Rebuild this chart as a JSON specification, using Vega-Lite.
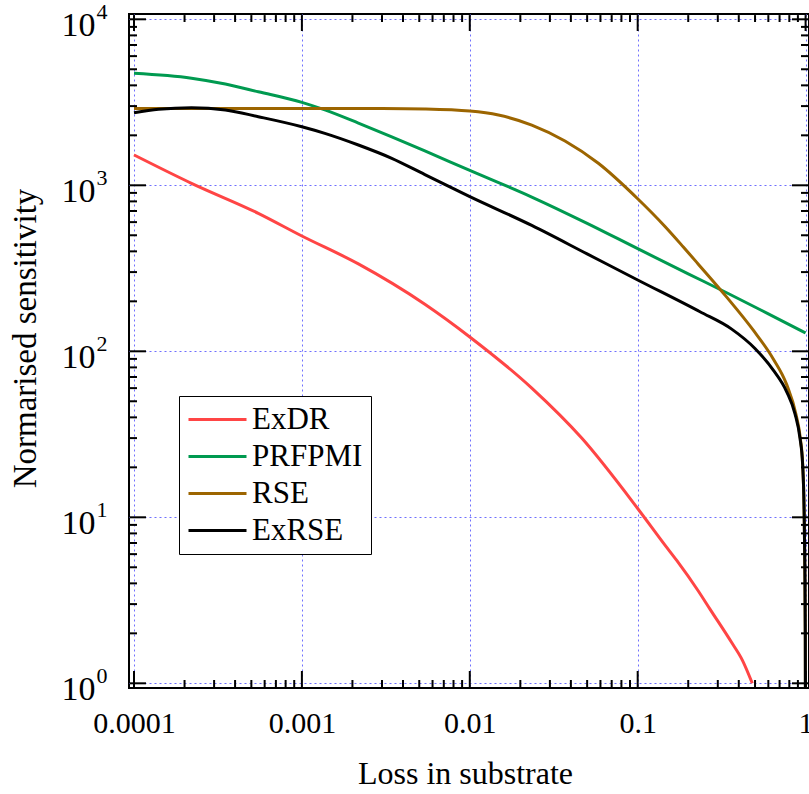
{
  "$schema": "https://vega.github.io/schema/vega-lite/v6.json",
  "width": 680,
  "height": 674,
  "autosize": {"type": "none"},
  "padding": {"left": 129, "top": 14, "right": 0, "bottom": 106},
  "background": "white",
  "config": {
    "view": {"stroke": "black", "strokeWidth": 2},
    "font": "Liberation Serif"
  },
  "datasets": {
    "curves": [
      {"series": "ExDR", "x": 0.0001, "y": 1524},
      {"series": "ExDR", "x": 0.00022, "y": 1028},
      {"series": "ExDR", "x": 0.00055, "y": 678},
      {"series": "ExDR", "x": 0.001, "y": 495},
      {"series": "ExDR", "x": 0.00217, "y": 336},
      {"series": "ExDR", "x": 0.0054, "y": 192},
      {"series": "ExDR", "x": 0.01, "y": 122},
      {"series": "ExDR", "x": 0.0234, "y": 60},
      {"series": "ExDR", "x": 0.0464, "y": 30},
      {"series": "ExDR", "x": 0.1, "y": 11.3},
      {"series": "ExDR", "x": 0.1454, "y": 6.8},
      {"series": "ExDR", "x": 0.1708, "y": 5.5},
      {"series": "ExDR", "x": 0.2296, "y": 3.6},
      {"series": "ExDR", "x": 0.2695, "y": 2.8},
      {"series": "ExDR", "x": 0.3629, "y": 1.76},
      {"series": "ExDR", "x": 0.42, "y": 1.38},
      {"series": "ExDR", "x": 0.4815, "y": 1.0},

      {"series": "PRFPMI", "x": 0.0001, "y": 4730},
      {"series": "PRFPMI", "x": 0.00022, "y": 4420},
      {"series": "PRFPMI", "x": 0.00035, "y": 4075},
      {"series": "PRFPMI", "x": 0.00055, "y": 3660},
      {"series": "PRFPMI", "x": 0.001, "y": 3160},
      {"series": "PRFPMI", "x": 0.00137, "y": 2845},
      {"series": "PRFPMI", "x": 0.00217, "y": 2370},
      {"series": "PRFPMI", "x": 0.00343, "y": 1960},
      {"series": "PRFPMI", "x": 0.0054, "y": 1610},
      {"series": "PRFPMI", "x": 0.01, "y": 1230},
      {"series": "PRFPMI", "x": 0.0234, "y": 850},
      {"series": "PRFPMI", "x": 0.05, "y": 590},
      {"series": "PRFPMI", "x": 0.1, "y": 415},
      {"series": "PRFPMI", "x": 0.2, "y": 293},
      {"series": "PRFPMI", "x": 0.346, "y": 223},
      {"series": "PRFPMI", "x": 0.6, "y": 168},
      {"series": "PRFPMI", "x": 1, "y": 129},

      {"series": "RSE", "x": 0.0001, "y": 2900},
      {"series": "RSE", "x": 0.001, "y": 2905},
      {"series": "RSE", "x": 0.003, "y": 2900},
      {"series": "RSE", "x": 0.0054, "y": 2880},
      {"series": "RSE", "x": 0.01, "y": 2800},
      {"series": "RSE", "x": 0.0148, "y": 2650},
      {"series": "RSE", "x": 0.0234, "y": 2306},
      {"series": "RSE", "x": 0.0369, "y": 1849},
      {"series": "RSE", "x": 0.0583, "y": 1358},
      {"series": "RSE", "x": 0.1, "y": 830},
      {"series": "RSE", "x": 0.1454, "y": 565},
      {"series": "RSE", "x": 0.187, "y": 425},
      {"series": "RSE", "x": 0.2296, "y": 335},
      {"series": "RSE", "x": 0.339, "y": 212},
      {"series": "RSE", "x": 0.488, "y": 134},
      {"series": "RSE", "x": 0.642, "y": 90},
      {"series": "RSE", "x": 0.772, "y": 63},
      {"series": "RSE", "x": 0.88, "y": 41},
      {"series": "RSE", "x": 0.93, "y": 30},
      {"series": "RSE", "x": 0.96, "y": 21},
      {"series": "RSE", "x": 0.98, "y": 11},
      {"series": "RSE", "x": 0.99, "y": 5},
      {"series": "RSE", "x": 0.996, "y": 2},
      {"series": "RSE", "x": 0.999, "y": 0.5},

      {"series": "ExRSE", "x": 0.0001, "y": 2735},
      {"series": "ExRSE", "x": 0.00014, "y": 2870},
      {"series": "ExRSE", "x": 0.00022, "y": 2933},
      {"series": "ExRSE", "x": 0.00035, "y": 2845},
      {"series": "ExRSE", "x": 0.00055, "y": 2590},
      {"series": "ExRSE", "x": 0.001, "y": 2253},
      {"series": "ExRSE", "x": 0.00137, "y": 2056},
      {"series": "ExRSE", "x": 0.00217, "y": 1749},
      {"series": "ExRSE", "x": 0.00343, "y": 1454},
      {"series": "ExRSE", "x": 0.0054, "y": 1160},
      {"series": "ExRSE", "x": 0.01, "y": 855},
      {"series": "ExRSE", "x": 0.0234, "y": 573},
      {"series": "ExRSE", "x": 0.05, "y": 386},
      {"series": "ExRSE", "x": 0.1, "y": 269},
      {"series": "ExRSE", "x": 0.235, "y": 173},
      {"series": "ExRSE", "x": 0.363, "y": 136},
      {"series": "ExRSE", "x": 0.4995, "y": 104},
      {"series": "ExRSE", "x": 0.642, "y": 77},
      {"series": "ExRSE", "x": 0.772, "y": 57},
      {"series": "ExRSE", "x": 0.865, "y": 42},
      {"series": "ExRSE", "x": 0.926, "y": 30},
      {"series": "ExRSE", "x": 0.96, "y": 21},
      {"series": "ExRSE", "x": 0.98, "y": 11},
      {"series": "ExRSE", "x": 0.99, "y": 5},
      {"series": "ExRSE", "x": 0.996, "y": 2},
      {"series": "ExRSE", "x": 0.999, "y": 0.5}
    ],
    "xmajor": [{"v": 0.0001}, {"v": 0.001}, {"v": 0.01}, {"v": 0.1}, {"v": 1}],
    "xminor": [
      {"v": 0.0002}, {"v": 0.0003}, {"v": 0.0004}, {"v": 0.0005}, {"v": 0.0006}, {"v": 0.0007}, {"v": 0.0008}, {"v": 0.0009},
      {"v": 0.002}, {"v": 0.003}, {"v": 0.004}, {"v": 0.005}, {"v": 0.006}, {"v": 0.007}, {"v": 0.008}, {"v": 0.009},
      {"v": 0.02}, {"v": 0.03}, {"v": 0.04}, {"v": 0.05}, {"v": 0.06}, {"v": 0.07}, {"v": 0.08}, {"v": 0.09},
      {"v": 0.2}, {"v": 0.3}, {"v": 0.4}, {"v": 0.5}, {"v": 0.6}, {"v": 0.7}, {"v": 0.8}, {"v": 0.9}
    ],
    "ymajor": [{"v": 1}, {"v": 10}, {"v": 100}, {"v": 1000}, {"v": 10000}],
    "yminor": [
      {"v": 2}, {"v": 3}, {"v": 4}, {"v": 5}, {"v": 6}, {"v": 7}, {"v": 8}, {"v": 9},
      {"v": 20}, {"v": 30}, {"v": 40}, {"v": 50}, {"v": 60}, {"v": 70}, {"v": 80}, {"v": 90},
      {"v": 200}, {"v": 300}, {"v": 400}, {"v": 500}, {"v": 600}, {"v": 700}, {"v": 800}, {"v": 900},
      {"v": 2000}, {"v": 3000}, {"v": 4000}, {"v": 5000}, {"v": 6000}, {"v": 7000}, {"v": 8000}, {"v": 9000}
    ]
  },
  "layer": [
    {
      "data": {"name": "curves"},
      "mark": {"type": "line", "strokeWidth": 3, "interpolate": "monotone", "clip": true},
      "encoding": {
        "x": {
          "field": "x", "type": "quantitative",
          "scale": {"type": "log", "domain": [0.00009337, 1.048], "nice": false},
          "axis": {
            "orient": "bottom", "values": [0.0001, 0.001, 0.01, 0.1, 1], "ticks": false, "domain": false,
            "labelFont": "Liberation Serif", "labelColor": "black", "labelOverlap": false, "labelFlush": false, "labelBound": false,
            "labelFontSize": 30, "labelPadding": 44, "labelBaseline": "alphabetic", "labelAlign": "center",
            "labelExpr": "datum.value < 0.0005 ? '0.0001' : datum.value < 0.005 ? '0.001' : datum.value < 0.05 ? '0.01' : datum.value < 0.5 ? '0.1' : '1'",
            "grid": true, "gridColor": "#6f6fff", "gridDash": [2, 3], "gridWidth": 1, "gridOpacity": 1,
            "title": "Loss in substrate", "titleFont": "Liberation Serif", "titleColor": "black", "titleFontWeight": "normal",
            "titleFontSize": 32, "titleX": 336, "titleY": 95, "titleBaseline": "alphabetic", "titleAlign": "center"
          }
        },
        "y": {
          "field": "y", "type": "quantitative",
          "scale": {"type": "log", "domain": [0.937, 10762], "nice": false},
          "axis": {
            "orient": "left", "values": [1, 10, 100, 1000, 10000], "ticks": false, "domain": false,
            "labelFont": "Liberation Serif", "labelColor": "black", "labelOverlap": false, "labelFlush": false, "labelBound": false,
            "labelFontSize": 34, "labelPadding": 34, "labelBaseline": "alphabetic", "labelAlign": "right", "labelOffset": 16,
            "labelExpr": "'10'",
            "grid": true, "gridColor": "#6f6fff", "gridDash": [2, 3], "gridWidth": 1, "gridOpacity": 1,
            "title": "Normarised sensitivity", "titleFont": "Liberation Serif", "titleColor": "black", "titleFontWeight": "normal",
            "titleFontSize": 33, "titleX": -94, "titleY": 324, "titleAngle": -90, "titleBaseline": "alphabetic", "titleAlign": "center"
          }
        },
        "color": {
          "field": "series", "type": "nominal",
          "scale": {"domain": ["ExDR", "PRFPMI", "RSE", "ExRSE"], "range": ["#ff4545", "#009a50", "#9c6500", "#000000"]},
          "legend": {
            "orient": "none", "legendX": 50, "legendY": 382, "title": null, "direction": "vertical",
            "symbolType": "stroke", "symbolSize": 3364, "symbolStrokeWidth": 3,
            "labelFont": "Liberation Serif", "labelFontSize": 31, "labelColor": "black", "labelOffset": 4, "labelLimit": 400,
            "padding": 8, "rowPadding": 5, "clipHeight": 31,
            "strokeColor": "black", "fillColor": "white"
          }
        }
      }
    },
    {
      "data": {"name": "ymajor"},
      "mark": {"type": "point", "opacity": 0},
      "encoding": {
        "x": {"datum": 1, "type": "quantitative", "axis": null},
        "y": {
          "field": "v", "type": "quantitative",
          "axis": {
            "orient": "left", "values": [1, 10, 100, 1000, 10000], "ticks": false, "domain": false, "grid": false, "title": null,
            "labelFont": "Liberation Serif", "labelColor": "black", "labelOverlap": false, "labelFlush": false, "labelBound": false,
            "labelFontSize": 22, "labelPadding": 33, "labelAlign": "left", "labelBaseline": "alphabetic", "labelOffset": -1,
            "labelExpr": "datum.value == 1 ? '0' : datum.value == 10 ? '1' : datum.value == 100 ? '2' : datum.value == 1000 ? '3' : datum.value == 10000 ? '4' : ''"
          }
        }
      }
    },
    {
      "data": {"name": "xmajor"},
      "mark": {"type": "rule", "color": "#000000", "strokeWidth": 2},
      "encoding": {
        "x": {"field": "v", "type": "quantitative", "axis": null},
        "y": {"datum": 0.95, "type": "quantitative", "axis": null},
        "y2": {"datum": 1.186}
      }
    },
    {
      "data": {"name": "xmajor"},
      "mark": {"type": "rule", "color": "#000000", "strokeWidth": 2},
      "encoding": {
        "x": {"field": "v", "type": "quantitative", "axis": null},
        "y": {"datum": 10600, "type": "quantitative", "axis": null},
        "y2": {"datum": 8502}
      }
    },
    {
      "data": {"name": "xminor"},
      "mark": {"type": "rule", "color": "#000000", "strokeWidth": 2},
      "encoding": {
        "x": {"field": "v", "type": "quantitative", "axis": null},
        "y": {"datum": 0.95, "type": "quantitative", "axis": null},
        "y2": {"datum": 1.047}
      }
    },
    {
      "data": {"name": "xminor"},
      "mark": {"type": "rule", "color": "#000000", "strokeWidth": 2},
      "encoding": {
        "x": {"field": "v", "type": "quantitative", "axis": null},
        "y": {"datum": 10600, "type": "quantitative", "axis": null},
        "y2": {"datum": 9632}
      }
    },
    {
      "data": {"name": "ymajor"},
      "mark": {"type": "rule", "color": "#000000", "strokeWidth": 2},
      "encoding": {
        "y": {"field": "v", "type": "quantitative", "axis": null},
        "x": {"datum": 0.0000945, "type": "quantitative", "axis": null},
        "x2": {"datum": 0.00011789}
      }
    },
    {
      "data": {"name": "ymajor"},
      "mark": {"type": "rule", "color": "#000000", "strokeWidth": 2},
      "encoding": {
        "y": {"field": "v", "type": "quantitative", "axis": null},
        "x": {"datum": 1.04, "type": "quantitative", "axis": null},
        "x2": {"datum": 0.830}
      }
    },
    {
      "data": {"name": "yminor"},
      "mark": {"type": "rule", "color": "#000000", "strokeWidth": 2},
      "encoding": {
        "y": {"field": "v", "type": "quantitative", "axis": null},
        "x": {"datum": 0.0000945, "type": "quantitative", "axis": null},
        "x2": {"datum": 0.0001042}
      }
    },
    {
      "data": {"name": "yminor"},
      "mark": {"type": "rule", "color": "#000000", "strokeWidth": 2},
      "encoding": {
        "y": {"field": "v", "type": "quantitative", "axis": null},
        "x": {"datum": 1.04, "type": "quantitative", "axis": null},
        "x2": {"datum": 0.939}
      }
    }
  ],
  "resolve": {"axis": {"x": "independent", "y": "independent"}}
}
